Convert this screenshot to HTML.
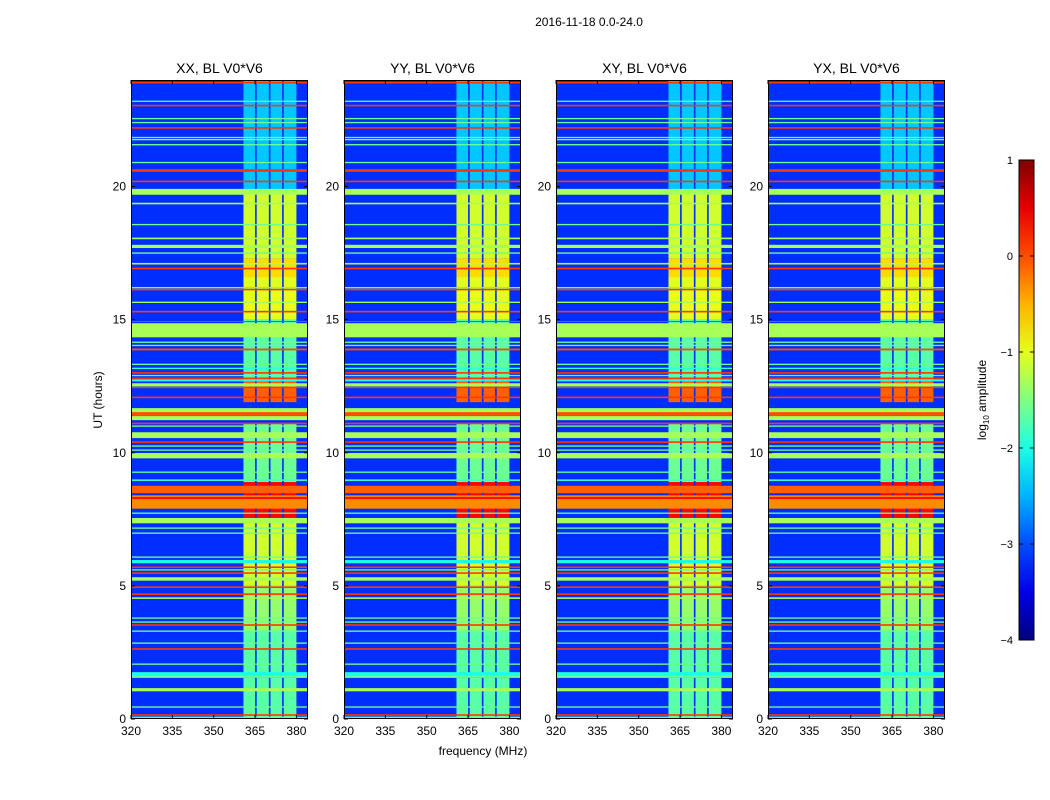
<!DOCTYPE html>
<html><head><meta charset="utf-8">
<style>
html,body{margin:0;padding:0;background:#fff;}
svg{display:block;font-family:"Liberation Sans","DejaVu Sans",sans-serif;}
</style></head>
<body>
<svg id="fig" width="1050" height="800" viewBox="0 0 1050 800" xmlns="http://www.w3.org/2000/svg">
<rect width="1050" height="800" fill="#fff"/>
<text x="589" y="26" font-size="12" text-anchor="middle">2016-11-18 0.0-24.0</text>
<text x="483" y="755" font-size="12" text-anchor="middle">frequency (MHz)</text>
<text transform="translate(102,400) rotate(-90)" font-size="12" text-anchor="middle">UT (hours)</text>
<g id="panels"></g>
<g id="cbar"></g>
</svg>
<script>
// ---- data ----
const panelTitles = ["XX, BL V0*V6","YY, BL V0*V6","XY, BL V0*V6","YX, BL V0*V6"];
const panelLeft = [131,344,556,768];
const xTicks = [320,335,350,365,380];
const yTicks = [0,5,10,15,20];
const cbarTicks = [1,0,-1,-2,-3,-4];
const backgroundLevel = -3.15;
// vertical frequency blocks [fStart, fEnd]
const blockFreqs = [[360.8,365.0],[365.6,370.0],[370.6,374.8],[375.4,380.0]];
// block level per time segment [hStart, hEnd, log10 amp]
const blockSegs = [[0,3.3,-1.7],[3.3,5,-1.4],[5,7.5,-1.1],[7.5,8.9,0.35],[8.9,11.1,-1.6],[11.9,12.8,-0.1],[12.8,15,-1.7],[15,16.6,-1.0],[16.6,17.3,-0.7],[17.3,19.7,-1.1],[19.9,24,-2.4]];
// horizontal RFI rows [hour, thickness(h), log10 amp]
const rowHours = [23.9,23.2,23.04,22.55,22.4,22.2,21.84,21.76,21.57,20.9,20.6,20.19,19.8,19.36,18.57,18.05,17.75,17.5,17.1,16.92,16.2,16.13,15.65,15.3,14.93,14.6,14.15,14.03,13.88,13.32,13.17,13.0,12.9,12.8,12.72,12.55,12.45,12.08,11.45,11.45,11.1,11.0,10.66,10.4,10.25,10.1,9.89,9.27,8.97,8.62,8.15,8.3,7.73,7.45,7.17,6.98,6.08,5.91,5.7,5.6,5.48,5.26,4.95,4.69,4.54,3.79,3.64,3.53,3.3,2.85,2.63,2.06,1.65,1.6,1.1,0.45,0.15,0.05];
const rowWidths = [0.06,0.05,0.06,0.05,0.05,0.06,0.05,0.05,0.05,0.05,0.1,0.06,0.22,0.06,0.05,0.06,0.12,0.05,0.06,0.06,0.05,0.06,0.05,0.06,0.04,0.53,0.05,0.05,0.07,0.05,0.05,0.06,0.05,0.05,0.08,0.12,0.05,0.06,0.45,0.15,0.06,0.05,0.22,0.06,0.05,0.05,0.2,0.05,0.06,0.28,0.5,0.08,0.05,0.2,0.05,0.05,0.05,0.12,0.06,0.05,0.06,0.13,0.06,0.06,0.06,0.05,0.05,0.06,0.05,0.05,0.06,0.05,0.22,0.05,0.12,0.05,0.06,0.08];
const rowLevels = [0.1,-1.7,0.1,-1.6,-1.6,0.1,-1.6,-1.6,-1.6,-1.6,0.1,0.1,-1.3,-1.3,-1.6,-1.3,-1.3,-1.6,-1.3,0.1,-1.6,0.1,-1.3,0.1,0.1,-1.3,-1.6,-1.6,0.0,-1.6,-1.9,0.1,-1.6,0.1,-2.0,-1.3,0.1,0.1,-1.3,0.0,0.1,-1.6,-1.3,0.1,-1.6,-1.6,-1.3,-1.6,-1.8,-0.1,-0.3,0.3,-1.6,-1.3,-1.6,-1.6,-1.6,-2.0,0.1,-1.6,0.1,-1.3,0.1,0.1,-1.3,-1.6,-1.6,0.1,-1.6,-1.6,0.1,-1.6,-2.0,-1.6,-1.3,-1.6,0.1,-1.6];

// ---- scales ----
const plotTop = 80, plotBottom = 719, pw = 177;
const fMin = 320, fMax = 384.2, hMin = 0, hMax = 24;
function xs(f, left){ return left + (f - fMin) / (fMax - fMin) * pw; }
function ys(h){ return plotBottom - (h - hMin) / (hMax - hMin) * (plotBottom - plotTop); }
function clamp(v){ return Math.max(0, Math.min(1, v)); }
function jet(v){
  const t = clamp((v + 4) / 5);
  const r = clamp(1.5 - Math.abs(4*t - 3)), g = clamp(1.5 - Math.abs(4*t - 2)), b = clamp(1.5 - Math.abs(4*t - 1));
  return `rgb(${Math.round(r*255)},${Math.round(g*255)},${Math.round(b*255)})`;
}
const NS = "http://www.w3.org/2000/svg";
function mk(tag, attrs, parent){
  const e = document.createElementNS(NS, tag);
  for (const k in attrs) e.setAttribute(k, attrs[k]);
  parent.appendChild(e); return e;
}

const panelsG = document.getElementById('panels');
panelLeft.forEach((left, p) => {
  const g = mk('g', {}, panelsG);
  
  
  const bg = mk('rect', {x:left, y:plotTop, width:pw, height:plotBottom-plotTop, fill:jet(backgroundLevel)}, g);
  
  
  blockSegs.forEach(seg => {
    blockFreqs.forEach(bf => {
      const x0 = xs(bf[0], left), x1 = xs(bf[1], left);
      const y0 = ys(seg[1]), y1 = ys(seg[0]);
      const r = mk('rect', {x:x0, y:y0, width:x1-x0, height:y1-y0, fill:jet(seg[2])}, g);
      
      
    });
  });
  rowHours.forEach((h, i) => {
    const w = rowWidths[i] || 0.05;
    const lv = (rowLevels[i] === undefined) ? -1.6 : rowLevels[i];
    const y0 = ys(h + w/2), y1 = ys(h - w/2);
    const r = mk('rect', {x:left, y:y0, width:pw, height:Math.max(1, y1-y0), fill:jet(lv)}, g);
    
    
  });
  const frame = mk('rect', {x:left+0.5, y:plotTop+0.5, width:pw-1, height:plotBottom-plotTop-1, fill:'none', stroke:'#000', 'stroke-width':1}, g);
  
  
  const t = mk('text', {x:left+pw/2, y:73, 'font-size':14, 'text-anchor':'middle'}, g);
  t.textContent = panelTitles[p];
  
  
  xTicks.forEach(f => {
    const x = xs(f, left);
    mk('line', {x1:x, x2:x, y1:plotBottom, y2:plotBottom-4, stroke:'#000'}, g);
    mk('line', {x1:x, x2:x, y1:plotTop, y2:plotTop+4, stroke:'#000'}, g);
    const l = mk('text', {x:x, y:plotBottom+16, 'font-size':12, 'text-anchor':'middle'}, g);
    l.textContent = f;
    
    
  });
  yTicks.forEach(h => {
    const y = ys(h);
    mk('line', {x1:left, x2:left+4, y1:y, y2:y, stroke:'#000'}, g);
    mk('line', {x1:left+pw, x2:left+pw-4, y1:y, y2:y, stroke:'#000'}, g);
    const l = mk('text', {x:left-5, y:y+4, 'font-size':12, 'text-anchor':'end'}, g);
    l.textContent = h;
    
    
  });
});

// colorbar
const cb = document.getElementById('cbar');


const cbX = 1019, cbW = 15, cbTop = 160, cbBot = 640;
function cys(v){ return cbBot - (v + 4) / 5 * (cbBot - cbTop); }
const defs = mk('defs', {}, cb);
const grad = mk('linearGradient', {id:'jetg', x1:0, y1:1, x2:0, y2:0}, defs);
for (let i = 0; i <= 10; i++) mk('stop', {offset: i/10, 'stop-color': jet(-4 + i*0.5)}, grad);
mk('rect', {x:cbX, y:cbTop, width:cbW, height:cbBot-cbTop, fill:'url(#jetg)', stroke:'#000', 'stroke-width':1}, cb);
cbarTicks.forEach(v => {
  const y = cys(v);
  mk('line', {x1:cbX, x2:cbX+4, y1:y, y2:y, stroke:'#000'}, cb);
  mk('line', {x1:cbX+cbW, x2:cbX+cbW-4, y1:y, y2:y, stroke:'#000'}, cb);
  const l = mk('text', {x:cbX-6, y:y+4, 'font-size':11, 'text-anchor':'end'}, cb);
  l.textContent = v < 0 ? '\u2212' + Math.abs(v) : String(v);
  
  
});
const cl = mk('text', {transform:'translate(986,400) rotate(-90)', 'font-size':12, 'text-anchor':'middle'}, cb);
cl.innerHTML = 'log<tspan font-size="8" dy="3">10</tspan><tspan dy="-3"> amplitude</tspan>';


</script>
</body></html>
